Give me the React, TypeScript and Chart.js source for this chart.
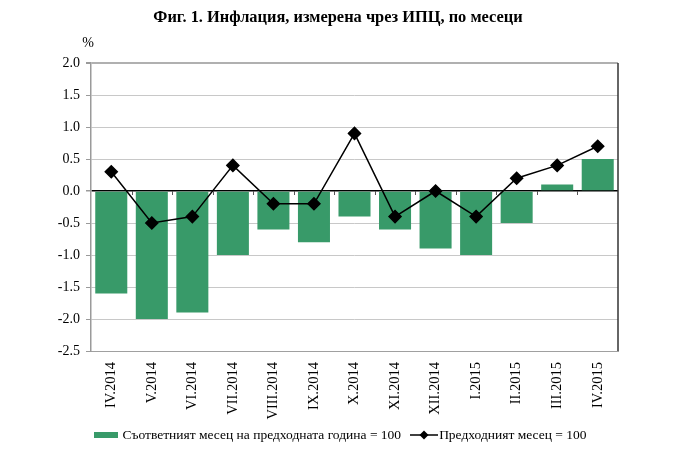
import { useEffect, useRef } from "react";
import { Chart, registerables } from "chart.js";

Chart.register(...registerables);

const months = [
  "IV.2014", "V.2014", "VI.2014", "VII.2014", "VIII.2014", "IX.2014", "X.2014",
  "XI.2014", "XII.2014", "I.2015", "II.2015", "III.2015", "IV.2015",
];
// same month of previous year = 100
const yearOnYear = [-1.6, -2.0, -1.9, -1.0, -0.6, -0.8, -0.4, -0.6, -0.9, -1.0, -0.5, 0.1, 0.5];
// previous month = 100
const monthOnMonth = [0.3, -0.5, -0.4, 0.4, -0.2, -0.2, 0.9, -0.4, 0.0, -0.4, 0.2, 0.4, 0.7];
const yMin = -2.5;
const yMax = 2.0;
const yStep = 0.5;

const TITLE = "Фиг. 1. Инфлация, измерена чрез ИПЦ, по месеци";
const SERIF = "'Times New Roman', 'Liberation Serif', serif";
const GREEN = "#389a69";

// title, right border, "%" label and the small category ticks on the zero line
const framePlugin = {
  id: "frame",
  afterDraw(chart: any) {
    const { ctx, chartArea, scales } = chart;
    const x = scales.x;
    const y = scales.y;
    ctx.save();
    ctx.strokeStyle = "#333";
    ctx.lineWidth = 1.5;
    ctx.beginPath();
    ctx.moveTo(chartArea.right, chartArea.top);
    ctx.lineTo(chartArea.right, chartArea.bottom);
    ctx.stroke();

    const zero = y.getPixelForValue(0);
    const half = (x.getPixelForValue(1) - x.getPixelForValue(0)) / 2;
    ctx.strokeStyle = "#555";
    ctx.lineWidth = 1;
    for (let i = 1; i < months.length; i++) {
      const px = Math.round(x.getPixelForValue(i) - half) + 0.5;
      ctx.beginPath();
      ctx.moveTo(px, zero);
      ctx.lineTo(px, zero + 4);
      ctx.stroke();
    }

    ctx.fillStyle = "#000";
    ctx.textAlign = "center";
    ctx.textBaseline = "middle";
    ctx.font = `14px ${SERIF}`;
    ctx.fillText("%", chartArea.left - 3, chartArea.top - 20);
    ctx.font = `bold 16.4px ${SERIF}`;
    ctx.fillText(TITLE, 338, 18);
    ctx.restore();
  },
};

export default function App() {
  const chartRef = useRef<HTMLCanvasElement>(null);
  const chartInstance = useRef<Chart | null>(null);

  useEffect(() => {
    if (!chartRef.current) return;
    const ctx = chartRef.current.getContext("2d");
    if (!ctx) return;

    if (chartInstance.current) {
      chartInstance.current.destroy();
    }

    chartInstance.current = new Chart(ctx, {
      type: "bar",
      data: {
        labels: months,
        datasets: [
          {
            type: "line",
            label: "Предходният месец = 100",
            data: monthOnMonth,
            borderColor: "#000",
            borderWidth: 1.5,
            backgroundColor: "#000",
            pointStyle: "rectRot",
            pointRadius: 6,
            pointBackgroundColor: "#000",
            pointBorderColor: "#000",
            tension: 0,
            order: 0,
          },
          {
            type: "bar",
            label: "Съответният месец на предходната година = 100",
            data: yearOnYear,
            backgroundColor: GREEN,
            borderWidth: 0,
            barPercentage: 0.79,
            categoryPercentage: 1,
            order: 1,
          },
        ],
      },
      options: {
        responsive: false,
        maintainAspectRatio: false,
        animation: false,
        layout: { padding: { left: 0, right: 63, top: 63, bottom: 27 } },
        plugins: {
          legend: { display: false },
          tooltip: { enabled: false },
          title: { display: false },
        },
        scales: {
          x: {
            grid: { display: false },
            border: { display: true, color: "#a0a0a0" },
            ticks: {
              color: "#000",
              font: { family: SERIF, size: 14.5 },
              minRotation: 90,
              maxRotation: 90,
              autoSkip: false,
              padding: 3,
            },
            afterFit: (scale: any) => {
              scale.height = 75;
            },
          },
          y: {
            min: yMin,
            max: yMax,
            border: { display: true, color: "#9a9a9a", width: 1.5 },
            grid: {
              color: (c: any) =>
                c.tick && c.tick.value === 0 ? "#000" : c.tick && c.tick.value === yMax ? "#b0b0b0" : "#c8c8c8",
              lineWidth: (c: any) =>
                c.tick && c.tick.value === 0 ? 1.5 : c.tick && c.tick.value === yMax ? 2 : 1,
              tickLength: 5,
              tickColor: "#9a9a9a",
            },
            ticks: {
              stepSize: yStep,
              color: "#000",
              font: { family: SERIF, size: 14 },
              padding: 6,
              callback: (v: any) => Number(v).toFixed(1),
            },
            afterFit: (scale: any) => {
              scale.width = 91;
            },
          },
        },
      },
      plugins: [framePlugin],
    });

    return () => {
      if (chartInstance.current) {
        chartInstance.current.destroy();
        chartInstance.current = null;
      }
    };
  }, []);

  return (
    <div style={{ position: "fixed", left: 0, top: 0, width: 681, height: 453, background: "#fff" }}>
      <canvas ref={chartRef} width={681} height={453} style={{ width: 681, height: 453 }}></canvas>
      {/* Legend */}
      <div
        style={{
          position: "absolute",
          left: 0,
          top: 427,
          width: 681,
          display: "flex",
          justifyContent: "center",
          alignItems: "center",
          fontFamily: SERIF,
          fontSize: 13.5,
          color: "#000",
          gap: 9,
        }}
      >
        <div style={{ display: "flex", alignItems: "center", gap: 4 }}>
          <div style={{ width: 24, height: 6, background: GREEN }}></div>
          <span>Съответният месец на предходната година = 100</span>
        </div>
        <div style={{ display: "flex", alignItems: "center", gap: 1 }}>
          <svg width={28} height={12}>
            <line x1={0} y1={6} x2={28} y2={6} stroke="#000" strokeWidth={1.5} />
            <polygon points="14,1.5 18.5,6 14,10.5 9.5,6" fill="#000" />
          </svg>
          <span>Предходният месец = 100</span>
        </div>
      </div>
    </div>
  );
}
